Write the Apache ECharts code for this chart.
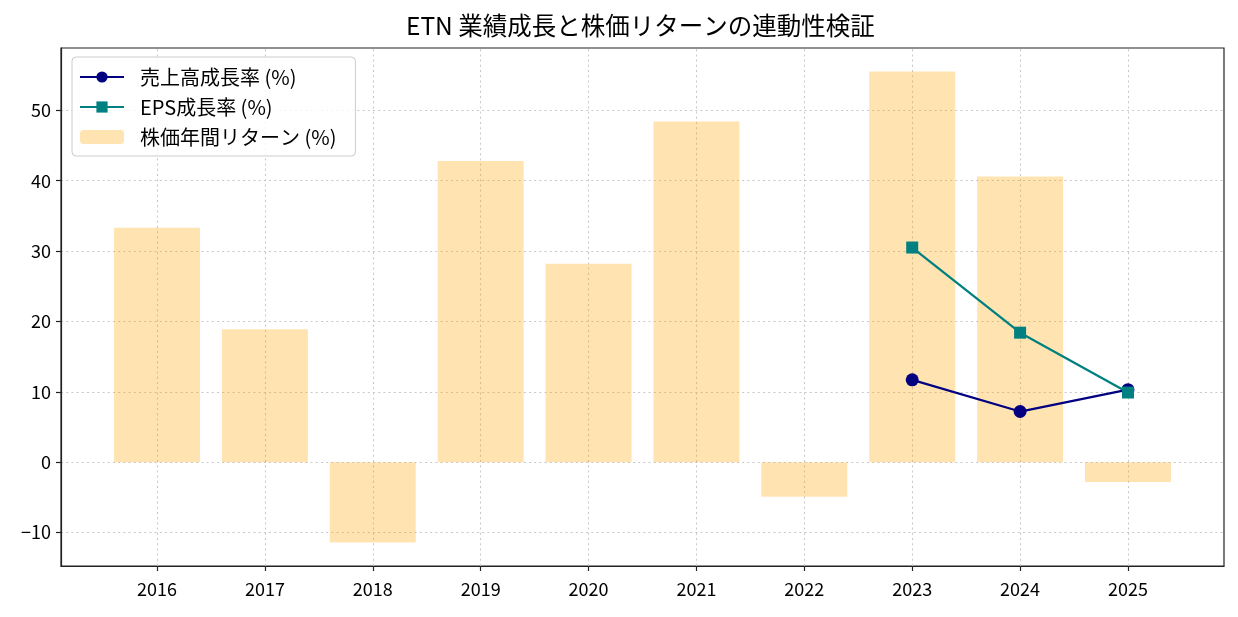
<!DOCTYPE html>
<html><head><meta charset="utf-8">
<script src="https://cdn.jsdelivr.net/npm/echarts@6/dist/echarts.min.js"></script>
<style>html,body{margin:0;padding:0;background:#fff}#c{width:1238px;height:617px}</style>
</head><body><div id="c"></div>
<script>
var years = ['2016','2017','2018','2019','2020','2021','2022','2023','2024','2025'];
var stockReturn = [33.3, 18.9, -11.4, 42.8, 28.2, 48.4, -4.9, 55.5, 40.6, -2.8];
var revenueGrowth = [null, null, null, null, null, null, null, 11.7, 7.2, 10.3];
var epsGrowth = [null, null, null, null, null, null, null, 30.5, 18.4, 9.9];
var yTicks = [-10, 0, 10, 20, 30, 40, 50];

var FONT = '"Noto Sans CJK JP", "Noto Sans", "DejaVu Sans", sans-serif';
var idx = years.map(function(_, i){ return i; });
function pairs(arr){ var o=[]; arr.forEach(function(v,i){ if(v!==null) o.push([i,v]); }); return o; }

var gridLines = idx.map(function(i){ return {xAxis:i}; }).concat(yTicks.map(function(v){ return {yAxis:v}; }));

var chart = echarts.init(document.getElementById('c'), null, {renderer:'canvas'});
chart.setOption({
  animation:false,
  backgroundColor:'#fff',
  title:{text:'ETN 業績成長と株価リターンの連動性検証', left:406, top:13, padding:0,
    textStyle:{fontFamily:FONT, fontSize:24.5, fontWeight:'normal', color:'#000'}},
  grid:{left:61, right:14, top:48, bottom:51, show:true, borderColor:'#222', borderWidth:1.2, containLabel:false},
  legend:{
    orient:'vertical', left:72, top:57, padding:[10,19,9,7], itemGap:10,
    itemWidth:44, itemHeight:14,
    backgroundColor:'rgba(255,255,255,0.8)', borderColor:'#ccc', borderWidth:1, borderRadius:4,
    textStyle:{fontFamily:FONT, fontSize:20, color:'#000', padding:[0,0,0,11]},
    data:['売上高成長率 (%)','EPS成長率 (%)','株価年間リターン (%)']
  },
  xAxis:{type:'value', min:-0.89, max:9.89,
    axisLine:{show:true, onZero:false, lineStyle:{color:'#222', width:1.2}},
    axisTick:{show:true, customValues:idx, length:5, lineStyle:{color:'#222', width:1.2}},
    axisLabel:{customValues:idx, formatter:function(v){return years[Math.round(v)];}, fontFamily:FONT, fontSize:18, color:'#000', margin:14},
    splitLine:{show:false}
  },
  yAxis:{type:'value', min:-14.75, max:58.85,
    axisLine:{show:true, onZero:false, lineStyle:{color:'#222', width:1.2}},
    axisTick:{show:true, customValues:yTicks, length:5, lineStyle:{color:'#222', width:1.2}},
    axisLabel:{customValues:yTicks, formatter:function(v){return v<0?'\u2212'+Math.abs(v):String(v);}, fontFamily:FONT, fontSize:18, color:'#000', margin:10},
    splitLine:{show:false}
  },
  series:[
    {name:'grid', type:'line', data:[], z:0, silent:true,
      markLine:{silent:true, z:0, symbol:'none', label:{show:false}, animation:false,
        lineStyle:{color:'#c8c8c8', type:[2,3.2], width:1.1}, data:gridLines}},
    {name:'株価年間リターン (%)', type:'bar', data:pairs(stockReturn), barWidth:86, z:1,
      itemStyle:{color:'rgba(255,165,0,0.3)'}},
    {name:'売上高成長率 (%)', type:'line', data:pairs(revenueGrowth), symbol:'circle', symbolSize:13, z:3,
      lineStyle:{color:'#000080', width:2.3}, itemStyle:{color:'#000080'}},
    {name:'EPS成長率 (%)', type:'line', data:pairs(epsGrowth), symbol:'rect', symbolSize:12, z:4,
      lineStyle:{color:'#008080', width:2.3}, itemStyle:{color:'#008080'}}
  ]
});
</script></body></html>
